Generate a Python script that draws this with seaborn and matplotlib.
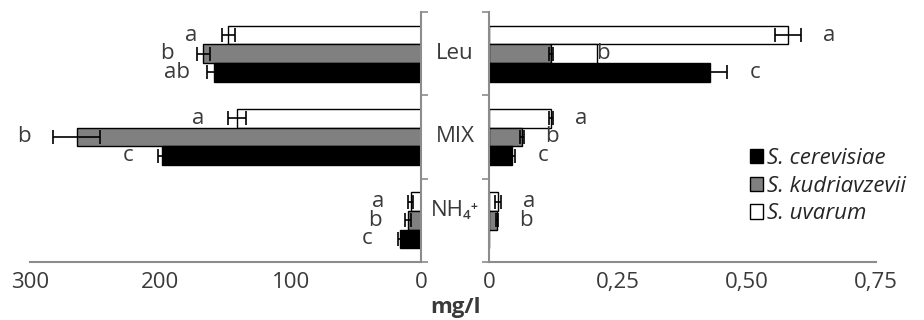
import matplotlib
matplotlib.use('Agg')
import matplotlib.pyplot as plt
import matplotlib.transforms as mtransforms
from matplotlib.patches import Patch
import seaborn as sns
import pandas as pd

# categories (top to bottom) and strains
categories = ['Leu', 'MIX', 'NH4+']
cat_labels = ['Leu', 'MIX', 'NH\u2084\u207a']
strains = ['S. uvarum', 'S. kudriavzevii', 'S. cerevisiae']
legend_order = ['S. cerevisiae', 'S. kudriavzevii', 'S. uvarum']
colors = {'S. uvarum': 'white', 'S. kudriavzevii': '#808080', 'S. cerevisiae': 'black'}

# left panel (scale 0-300 mg/l)
left_vals = {'S. uvarum': [148, 141, 8],
             'S. kudriavzevii': [167, 264, 10],
             'S. cerevisiae': [159, 199, 16]}
left_err = {'S. uvarum': [5, 7, 2],
            'S. kudriavzevii': [5, 18, 2],
            'S. cerevisiae': [5, 3, 2]}
left_letters = {'S. uvarum': ['a', 'a', 'a'],
                'S. kudriavzevii': ['b', 'b', 'b'],
                'S. cerevisiae': ['ab', 'c', 'c']}

# right panel (scale 0-0.75 mg/l)
right_vals = {'S. uvarum': [0.58, 0.12, 0.017],
              'S. kudriavzevii': [0.12, 0.064, 0.015],
              'S. cerevisiae': [0.428, 0.045, 0.0]}
right_err = {'S. uvarum': [0.025, 0.004, 0.006],
             'S. kudriavzevii': [0.004, 0.003, 0.002],
             'S. cerevisiae': [0.033, 0.005, 0.0]}
right_letters = {'S. uvarum': ['a', 'a', 'a'],
                 'S. kudriavzevii': ['b', 'b', 'b'],
                 'S. cerevisiae': ['c', 'c', '']}
# white box drawn after the Leu / S. kudriavzevii bar in the original
leu_kud_box = (0.12, 0.21)

left_ticks = [300, 200, 100, 0]
right_ticks = [0, 0.25, 0.50, 0.75]
right_ticklabels = ['0', '0,25', '0,50', '0,75']

sns.set_style('white')
plt.rcParams['font.family'] = ['Open Sans', 'DejaVu Sans']
txt = '#3a3a3a'
axc = '#8c8c8c'
fs = 16


def long_df(vals):
    rows = []
    for s in strains:
        for c, v in zip(categories, vals[s]):
            rows.append({'category': c, 'strain': s, 'value': v})
    return pd.DataFrame(rows)


fig = plt.figure(figsize=(9.24, 3.2), dpi=100)
ax_l = fig.add_axes([30 / 924, 1 - 262 / 320, 391 / 924, 250 / 320])
ax_r = fig.add_axes([489 / 924, 1 - 262 / 320, 387 / 924, 250 / 320])


def draw(ax, vals, errs):
    sns.barplot(data=long_df(vals), x='value', y='category', hue='strain',
                hue_order=strains, order=categories, palette=colors, orient='h',
                width=0.67, saturation=1, edgecolor='black', linewidth=1,
                errorbar=None, legend=False, ax=ax)
    bars = list(ax.patches)
    i = 0
    pos = {}
    for s in strains:
        for k, c in enumerate(categories):
            p = bars[i]
            i += 1
            yc = p.get_y() + p.get_height() / 2
            pos[(s, k)] = (yc, p.get_height())
            v = vals[s][k]
            e = errs[s][k]
            if e > 0:
                ax.errorbar(v, yc, xerr=e, fmt='none', ecolor='black',
                            elinewidth=1.2, capsize=5, capthick=1.2)
    return pos


pos_l = draw(ax_l, left_vals, left_err)
pos_r = draw(ax_r, right_vals, right_err)

# extra white box on right panel, Leu / S. kudriavzevii row
yb, hb = pos_r[('S. kudriavzevii', 0)]
ax_r.barh(yb, leu_kud_box[1] - leu_kud_box[0], left=leu_kud_box[0], height=hb,
          color='white', edgecolor='black', linewidth=1)

for s in strains:
    for k in range(len(categories)):
        yc, _ = pos_l[(s, k)]
        ax_l.annotate(left_letters[s][k], (left_vals[s][k] + left_err[s][k], yc),
                      xytext=(-30, 0), textcoords='offset pixels', ha='center',
                      va='center', fontsize=fs, color=txt)
        yc, _ = pos_r[(s, k)]
        xr = right_vals[s][k] + right_err[s][k]
        if s == 'S. kudriavzevii' and k == 0:
            xr = leu_kud_box[1]
            off = 6
        else:
            off = 28
        ax_r.annotate(right_letters[s][k], (xr, yc),
                      xytext=(off, 0), textcoords='offset pixels', ha='center',
                      va='center', fontsize=fs, color=txt)

for ax in (ax_l, ax_r):
    ax.set_ylim(2.5, -0.5)
    ax.set_yticks([-0.5, 0.5, 1.5, 2.5])
    ax.set_yticklabels([])
    ax.set_xlabel('')
    ax.set_ylabel('')
    ax.tick_params(axis='both', direction='out', length=5, width=1.2, color=axc,
                   labelsize=fs, labelcolor=txt, pad=2)
    for sp in ax.spines.values():
        sp.set_color(axc)
        sp.set_linewidth(1.5)
    ax.spines['top'].set_visible(False)
    ax.patch.set_alpha(0)

ax_l.set_xlim(300, 0)
ax_l.set_xticks(left_ticks)
ax_l.set_xticklabels([str(t) for t in left_ticks])
ax_l.spines['left'].set_visible(False)
ax_l.yaxis.tick_right()

ax_r.set_xlim(0, 0.75)
ax_r.set_xticks(right_ticks)
ax_r.set_xticklabels(right_ticklabels)
ax_r.spines['right'].set_visible(False)
ax_r.yaxis.tick_left()

# category labels in the gap
tr = mtransforms.blended_transform_factory(fig.transFigure, ax_l.transData)
for k, lab in enumerate(cat_labels):
    dy = -0.12 if k == 2 else 0
    fig.text(455 / 924, k + dy, lab, transform=tr, ha='center', va='center',
             fontsize=fs, color=txt)

fig.text(455 / 924, 1 - 307 / 320, 'mg/l', ha='center', va='center',
         fontsize=16, fontweight='bold', color=txt)

handles = [Patch(facecolor=colors[s], edgecolor='black', linewidth=1, label=s)
           for s in legend_order]
fig.legend(handles=handles, loc='upper left', bbox_to_anchor=(750 / 924, 1 - 148 / 320),
           frameon=False, prop={'style': 'italic', 'size': 16},
           handlelength=0.6, handleheight=0.6, handletextpad=0.15,
           labelspacing=0.3, borderpad=0, borderaxespad=0)

fig.savefig('out.png', dpi=100)
